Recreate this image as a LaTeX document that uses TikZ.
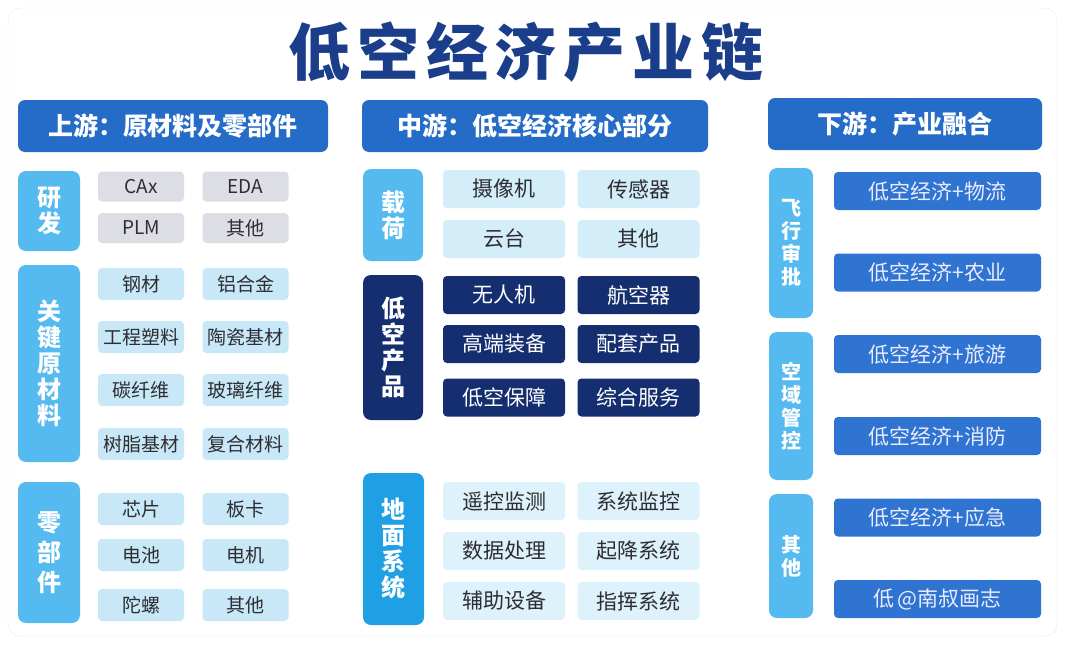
\documentclass[tikz,border=0pt]{standalone}
\usepackage{fontspec}
\setmainfont{Noto Sans CJK SC}
\newfontfamily\titlefont{Noto Sans CJK SC}[LetterSpace=11]
\usetikzlibrary{positioning}
\definecolor{titlenavy}{RGB}{26, 62, 138}
\definecolor{hdrblue}{RGB}{36, 108, 200}
\definecolor{skyside}{RGB}{84, 186, 240}
\definecolor{groundside}{RGB}{32, 160, 228}
\definecolor{navybox}{RGB}{20, 46, 112}
\definecolor{graybox}{RGB}{221, 222, 229}
\definecolor{lightbox}{RGB}{200, 232, 248}
\definecolor{paleblue}{RGB}{222, 242, 251}
\definecolor{rightbox}{RGB}{46, 116, 208}
\definecolor{itemtext}{RGB}{45, 45, 50}
\definecolor{framegray}{RGB}{232, 234, 238}

\begin{document}
\begin{tikzpicture}[x=1pt, y=-1pt,
	hdr/.style={fill=hdrblue, rounded corners=7pt, text=white,
		minimum height=52pt, inner sep=0pt,
		font=\fontsize{25}{25}\selectfont\bfseries},
	side/.style={fill=skyside, rounded corners=8pt, text=white,
		minimum width=62pt, inner sep=0pt, align=center,
		font=\fontsize{24}{26}\selectfont\bfseries},
	thinside/.style={side, minimum width=44pt,
		font=\fontsize{20}{23}\selectfont\bfseries},
	cell/.style={rounded corners=4pt, text=itemtext, inner sep=0pt,
		minimum width=86pt, minimum height=32pt,
		font=\fontsize{19}{19}\selectfont},
	graycell/.style={cell, fill=graybox, minimum height=30pt},
	bluecell/.style={cell, fill=lightbox},
	midcell/.style={cell, fill=lightbox!80!white, minimum width=122pt,
		minimum height=38pt, font=\fontsize{21}{21}\selectfont},
	navycell/.style={midcell, fill=navybox, text=white},
	palecell/.style={midcell, fill=paleblue},
	rightcell/.style={cell, fill=rightbox, text=white!92!blue,
		minimum width=207pt, minimum height=38pt,
		font=\fontsize{21}{21}\selectfont}
	]
	\useasboundingbox (0,0) rectangle (1066,645);
	\draw[framegray, fill=white, rounded corners=12pt] (8,8) rectangle (1057,636);
	\node[text=titlenavy, font=\titlefont\fontsize{62}{62}\selectfont\bfseries] (title) at (526,52) {低空经济产业链};
	% upstream
	\node[hdr, minimum width=310pt] (hdrup) at (173,126) {上游：原材料及零部件};
	\node[side, minimum height=80pt] (rd) at (49,211) {研\\发};
	\node[graycell] (cax) at (141,186.5) {CAx};
	\node[graycell] (eda) at (245.5,186.5) {EDA};
	\node[graycell] (plm) at (141,228) {PLM};
	\node[graycell] (rdother) at (245.5,228) {其他};
	\node[side, minimum height=197pt] (mat) at (49,363.5) {关\\键\\原\\材\\料};
	\node[bluecell] (steel) at (141,284) {钢材};
	\node[bluecell] (alloy) at (245.5,284) {铝合金};
	\node[bluecell] (plastic) at (141,337) {工程塑料};
	\node[bluecell] (ceramic) at (245.5,337) {陶瓷基材};
	\node[bluecell] (carbon) at (141,390) {碳纤维};
	\node[bluecell] (glass) at (245.5,390) {玻璃纤维};
	\node[bluecell] (resin) at (141,444) {树脂基材};
	\node[bluecell] (composite) at (245.5,444) {复合材料};
	\node[side, minimum height=141pt, font=\fontsize{24}{30}\selectfont\bfseries] (parts) at (49,552.5) {零\\部\\件};
	\node[bluecell] (chip) at (141,509) {芯片};
	\node[bluecell] (board) at (245.5,509) {板卡};
	\node[bluecell] (battery) at (141,555) {电池};
	\node[bluecell] (motor) at (245.5,555) {电机};
	\node[bluecell] (gyro) at (141,605) {陀螺};
	\node[bluecell] (partother) at (245.5,605) {其他};
	% midstream
	\node[hdr, minimum width=346pt] (hdrmid) at (535,126) {中游：低空经济核心部分};
	\node[side, minimum width=60pt, minimum height=92pt] (load) at (393,215) {载\\荷};
	\node[midcell] (camera) at (504,189) {摄像机};
	\node[midcell] (sensor) at (638.5,189) {传感器};
	\node[midcell] (gimbal) at (504,239) {云台};
	\node[midcell] (loadother) at (638.5,239) {其他};
	\node[side, fill=navybox, minimum width=60pt, minimum height=145pt] (prod) at (393,347.5) {低\\空\\产\\品};
	\node[navycell] (uav) at (504,295) {无人机};
	\node[navycell] (aircraft) at (638.5,295) {航空器};
	\node[navycell] (equip) at (504,344) {高端装备};
	\node[navycell] (support) at (638.5,344) {配套产品};
	\node[navycell] (guard) at (504,397.5) {低空保障};
	\node[navycell] (service) at (638.5,397.5) {综合服务};
	\node[side, fill=groundside, minimum width=61pt, minimum height=152pt] (ground) at (393.5,549) {地\\面\\系\\统};
	\node[palecell] (remote) at (504,501) {遥控监测};
	\node[palecell] (sysmon) at (638.5,501) {系统监控};
	\node[palecell] (data) at (504,551) {数据处理};
	\node[palecell] (launch) at (638.5,551) {起降系统};
	\node[palecell] (aux) at (504,601) {辅助设备};
	\node[palecell] (command) at (638.5,601) {指挥系统};
	% downstream
	\node[hdr, minimum width=274pt] (hdrdown) at (905,124) {下游：产业融合};
	\node[thinside, minimum height=150pt] (flight) at (791,243) {飞\\行\\审\\批};
	\node[thinside, minimum height=148pt] (airspace) at (791,406) {空\\域\\管\\控};
	\node[thinside, minimum height=124pt] (downother) at (791,556) {其\\他};
	\node[rightcell] (logistics) at (937.5,191) {低空经济+物流};
	\node[rightcell] (farm) at (937.5,272.5) {低空经济+农业};
	\node[rightcell] (tour) at (937.5,354) {低空经济+旅游};
	\node[rightcell] (fire) at (937.5,436) {低空经济+消防};
	\node[rightcell] (rescue) at (937.5,517.5) {低空经济+应急};
	\node[rightcell] (mark) at (937.5,599) {低\,@南叔画志};
\end{tikzpicture}
\end{document}
